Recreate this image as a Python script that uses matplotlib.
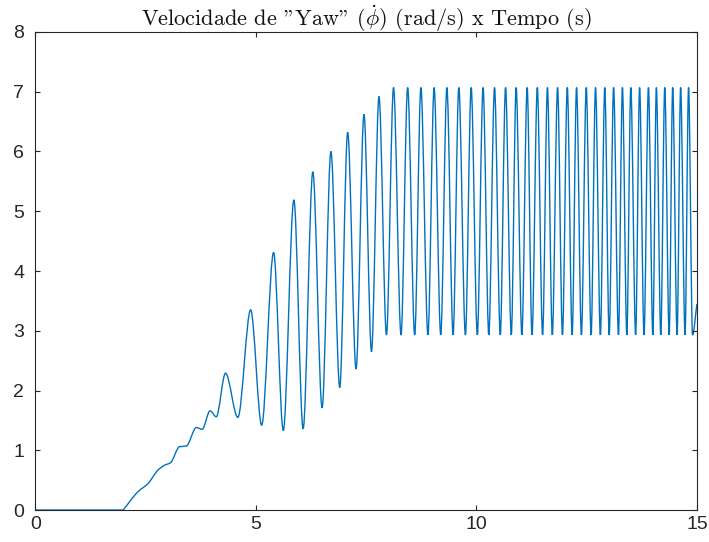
import numpy as np
import matplotlib
matplotlib.use("Agg")
import matplotlib.pyplot as plt
from matplotlib.path import Path
from matplotlib.patches import PathPatch

# yaw rate (rad/s), time in s
# flat part before the response starts
t_flat = [0.0, 1.99]
v_flat = [0.0, 0.0]

# ramp with the small wiggles
t_ramp = [1.99, 2.33, 2.55, 2.78, 2.93, 3.06, 3.27, 3.42, 3.65, 3.78, 3.96, 4.10, 4.31]
v_ramp = [0.0, 0.31, 0.44, 0.67, 0.75, 0.79, 1.06, 1.07, 1.38, 1.35, 1.66, 1.56, 2.29]

# growing oscillation (valley, peak, valley, ...)
t_grow = [4.59, 4.88, 5.13, 5.40, 5.62, 5.86, 6.07, 6.29, 6.50, 6.70,
          6.90, 7.08, 7.27, 7.45, 7.62, 7.79]
v_grow = [1.55, 3.35, 1.42, 4.31, 1.33, 5.19, 1.36, 5.66, 1.71, 6.00,
          2.05, 6.32, 2.36, 6.62, 2.65, 6.92]

# saturated part: valleys at 2.93, peaks at 7.07
t_valley = [7.96, 8.29, 8.60, 8.90, 9.19, 9.47, 9.75, 10.02, 10.28, 10.54,
            10.79, 11.03, 11.26, 11.50, 11.72, 11.95, 12.17, 12.38, 12.60, 12.81,
            13.01, 13.22, 13.41, 13.61, 13.80, 14.00, 14.18, 14.37, 14.55, 14.73,
            14.90]
t_peak = [8.12, 8.44, 8.74, 9.04, 9.33, 9.60, 9.88, 10.15, 10.41, 10.66,
          10.90, 11.15, 11.38, 11.61, 11.84, 12.06, 12.27, 12.49, 12.70, 12.91,
          13.11, 13.31, 13.50, 13.70, 13.90, 14.08, 14.27, 14.45, 14.63, 14.81]
v_valley = 2.93
v_peak = 7.07
t_end = 15.0
v_end = 3.45

# put the curve together
t_sat, v_sat = [], []
for i in range(len(t_valley)):
    t_sat.append(t_valley[i]); v_sat.append(v_valley)
    if i < len(t_peak):
        t_sat.append(t_peak[i]); v_sat.append(v_peak)

t = np.array(t_ramp + t_grow + t_sat + [t_end])
v = np.array(v_ramp + v_grow + v_sat + [v_end])


def pchip_slopes(x, y):
    h = np.diff(x)
    d = np.diff(y) / h
    m = np.zeros_like(y)
    for i in range(1, len(x) - 1):
        if d[i - 1] * d[i] > 0:
            w1 = 2 * h[i] + h[i - 1]
            w2 = h[i] + 2 * h[i - 1]
            m[i] = (w1 + w2) / (w1 / d[i - 1] + w2 / d[i])
    m[0] = d[0]
    m[-1] = d[-1]
    return m


# cubic bezier segments through the read points (horizontal at peaks/valleys)
m = pchip_slopes(t, v)
verts = [(t_flat[0], v_flat[0]), (t_flat[1], v_flat[1])]
codes = [Path.MOVETO, Path.LINETO]
for i in range(len(t) - 1):
    h = t[i + 1] - t[i]
    verts += [(t[i] + h / 3, v[i] + m[i] * h / 3),
              (t[i + 1] - h / 3, v[i + 1] - m[i + 1] * h / 3),
              (t[i + 1], v[i + 1])]
    codes += [Path.CURVE4] * 3

plt.rcParams['mathtext.fontset'] = 'cm'

fig = plt.figure(figsize=(7.09, 5.42), dpi=100)
ax = fig.add_axes([0.050, 0.059, 0.933, 0.882])

ax.add_patch(PathPatch(Path(verts, codes), fill=False, edgecolor='#0072BD', lw=1.0))

ax.set_xlim(0, 15)
ax.set_ylim(0, 8)
ax.set_xticks([0, 5, 10, 15])
ax.set_yticks(range(0, 9))

for s in ax.spines.values():
    s.set_color('#262626')
    s.set_linewidth(0.8)
ax.tick_params(direction='in', top=True, right=True, length=3.6, width=0.8,
               color='#262626', labelcolor='#262626', labelsize=14)
ax.tick_params(axis='x', pad=4)
ax.tick_params(axis='y', pad=8)
for lab in ax.get_xticklabels() + ax.get_yticklabels():
    lab.set_family('Liberation Sans')

ax.set_title('Velocidade de "Yaw" ($\\dot{\\phi}$) (rad/s) x Tempo (s)',
             family='cmr10', fontsize=16, pad=4, color='#111111')

fig.savefig('out.png', dpi=100)
